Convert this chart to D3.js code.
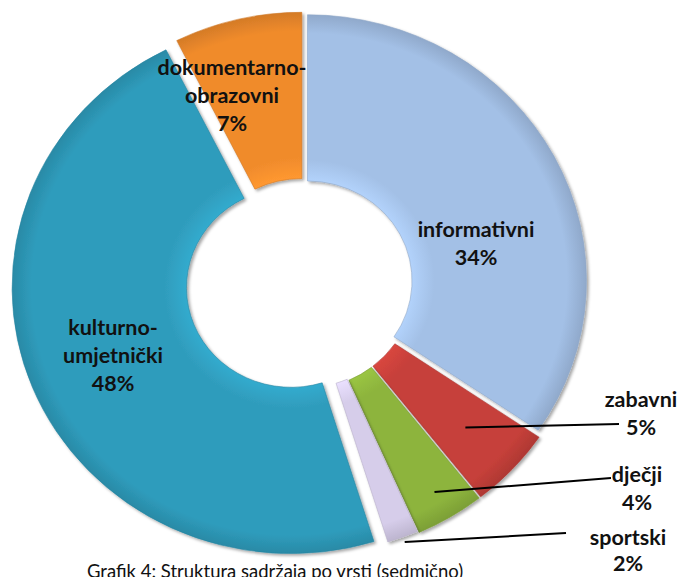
<!DOCTYPE html>
<html><head><meta charset="utf-8">
<script src="https://cdn.jsdelivr.net/npm/d3@7"></script>
<style>html,body{margin:0;padding:0;background:#fff;} svg{display:block}</style>
</head><body>
<svg id="chart" width="681" height="577"></svg>
<script>
// ---- data ----
const categories = ["informativni", "zabavni", "dječji", "sportski", "kulturno-umjetnički", "dokumentarno-obrazovni"];
const values = [34.5, 4.9, 4.0, 1.8, 47.4, 7.4];
const percentLabels = ["34%", "5%", "4%", "2%", "48%", "7%"];
const labelLines = [["informativni"], ["zabavni"], ["dječji"], ["sportski"], ["kulturno-", "umjetnički"], ["dokumentarno-", "obrazovni"]];
const caption = "Grafik 4: Struktura sadržaja po vrsti (sedmično)";

// ---- style / layout ----
const colors = ["#A3C0E6", "#C6403A", "#8DB43D", "#D6CDEA", "#2F9CBC", "#F08B2C"];
const explode = [0.018, 0.026, 0.026, 0.02, 0.046, 0.018];
const labelPos = [[476, 237], [641, 407], [637, 482], [628, 545], [113, 335], [232, 75]];
const labelGap = [28, 28, 28, 26, 28, 28];
const leaderRadius = [null, 0.77, 0.89, 1.02, null, null];
const leaderEnd = [null, [619, 424], [611, 478], [566, 533], null, null];

const W = 681, H = 577, cx = 303, cy = 283, rx = 279, ry = 266, R = 272, holeRatio = 0.375;
const svg = d3.select("#chart");
const xs = d3.scaleLinear().domain([-1, 1]).range([cx - rx, cx + rx]);
const ys = d3.scaleLinear().domain([-1, 1]).range([cy - ry, cy + ry]);

const defs = svg.append("defs");
const f = defs.append("filter").attr("id", "sh").attr("x", "-20%").attr("y", "-20%").attr("width", "140%").attr("height", "140%");
f.append("feDropShadow").attr("dx", 2).attr("dy", 2).attr("stdDeviation", 1.8).attr("flood-color", "#000").attr("flood-opacity", 0.35);

const pie = d3.pie().sort(null).value(d => d);
const arcs = pie(values);
const arc = d3.arc().innerRadius(R * holeRatio).outerRadius(R);

const g = svg.append("g").attr("transform", `translate(${cx},${cy}) scale(${rx / R},${ry / R})`);

arcs.forEach((a, i) => {
  const gr = defs.append("radialGradient").attr("id", "gr" + i)
    .attr("gradientUnits", "userSpaceOnUse").attr("cx", 0).attr("cy", 0).attr("r", R);
  const c = d3.color(colors[i]);
  gr.append("stop").attr("offset", holeRatio).attr("stop-color", c.brighter(0.25));
  gr.append("stop").attr("offset", holeRatio + 0.08).attr("stop-color", c);
  gr.append("stop").attr("offset", 0.93).attr("stop-color", c);
  gr.append("stop").attr("offset", 1).attr("stop-color", c.darker(0.35));
});

g.selectAll("path.slice").data(arcs).join("path")
  .attr("class", "slice")
  .attr("transform", (d, i) => {
    const m = (d.startAngle + d.endAngle) / 2;
    return `translate(${Math.sin(m) * explode[i] * R},${-Math.cos(m) * explode[i] * R})`;
  })
  .attr("d", arc)
  .attr("fill", (d, i) => `url(#gr${i})`)
  .attr("stroke", (d, i) => d3.color(colors[i]).darker(0.4))
  .attr("stroke-width", 0.6)
  .attr("filter", "url(#sh)");

// leader lines
arcs.forEach((a, i) => {
  if (!leaderRadius[i]) return;
  const m = (a.startAngle + a.endAngle) / 2;
  const ux = Math.sin(m) * (leaderRadius[i] + explode[i]);
  const uy = -Math.cos(m) * (leaderRadius[i] + explode[i]);
  svg.append("line")
    .attr("x1", xs(ux)).attr("y1", ys(uy))
    .attr("x2", leaderEnd[i][0]).attr("y2", leaderEnd[i][1])
    .attr("stroke", "#000").attr("stroke-width", 2);
});

// labels
const fontFam = "Lato, 'Open Sans', sans-serif";
arcs.forEach((a, i) => {
  const lines = labelLines[i].concat([percentLabels[i]]);
  const t = svg.append("text")
    .attr("text-anchor", "middle")
    .attr("font-family", fontFam).attr("font-weight", 700).attr("font-size", 21.5)
    .attr("fill", "#111");
  lines.forEach((s, k) => {
    t.append("tspan").attr("x", labelPos[i][0]).attr("y", labelPos[i][1] + k * labelGap[i]).text(s);
  });
});

svg.append("text").attr("x", 87).attr("y", 578)
  .attr("font-family", fontFam).attr("font-size", 18.5).attr("fill", "#111")
  .text(caption);
</script>
</body></html>
